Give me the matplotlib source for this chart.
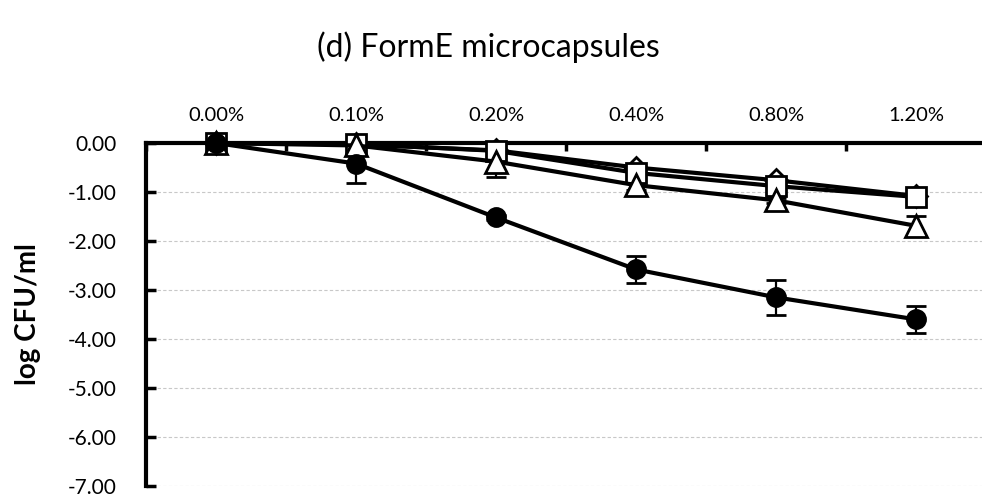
import matplotlib
matplotlib.use("Agg")
import matplotlib.pyplot as plt
import numpy as np

plt.rcParams['font.family'] = ['Lato', 'DejaVu Sans']

concentrations = ["0.00%", "0.10%", "0.20%", "0.40%", "0.80%", "1.20%"]

circle_vals = [0.00, -0.42, -1.52, -2.58, -3.15, -3.60]
circle_err = [0.15, 0.40, 0.05, 0.27, 0.35, 0.27]

diamond_vals = [0.00, -0.03, -0.15, -0.50, -0.76, -1.08]
diamond_err = [0.05, 0.05, 0.05, 0.05, 0.05, 0.05]

square_vals = [0.00, -0.02, -0.16, -0.61, -0.88, -1.10]
square_err = [0.10, 0.05, 0.05, 0.05, 0.05, 0.08]

triangle_vals = [0.00, -0.05, -0.38, -0.86, -1.17, -1.69]
triangle_err = [0.10, 0.05, 0.31, 0.10, 0.05, 0.20]

y_ticks = [0, -1, -2, -3, -4, -5, -6, -7]

fig = plt.figure(figsize=(9.82, 4.99), dpi=100)
ax = fig.add_axes([146 / 982, 1 - 486 / 499, (986 - 146) / 982, (486 - 143) / 499])

x = np.arange(len(concentrations))

series = [
    (diamond_vals, diamond_err, dict(marker='D', markersize=11, markerfacecolor='white')),
    (square_vals, square_err, dict(marker='s', markersize=14, markerfacecolor='white')),
    (triangle_vals, triangle_err, dict(marker='^', markersize=16, markerfacecolor='white')),
    (circle_vals, circle_err, dict(marker='o', markersize=13, markerfacecolor='black')),
]
for vals, err, style in series:
    ax.errorbar(x, vals, yerr=err, color='black', linewidth=3.0,
                markeredgecolor='black', markeredgewidth=2.0,
                elinewidth=1.6, capsize=7, capthick=2.0, zorder=3, clip_on=False,
                **style)

ax.set_xlim(-0.5, len(concentrations) - 0.5)
ax.set_ylim(-7, 0)
ax.set_yticks(y_ticks)
ax.set_yticklabels([f"{v:.2f}" for v in y_ticks], fontsize=15)
ax.yaxis.grid(True, color='#c8c8c8', linestyle='--', linewidth=0.8, dashes=(3, 2))
ax.set_axisbelow(True)

ax.xaxis.tick_top()
ax.set_xticks(x)
ax.set_xticklabels(concentrations, fontsize=14.5)
ax.set_xticks(np.arange(len(concentrations) + 1) - 0.5, minor=True)
ax.tick_params(axis='x', which='major', length=0, pad=14)
ax.tick_params(axis='x', which='minor', direction='in', length=6, width=2.5)
ax.tick_params(axis='y', which='major', direction='in', length=7, width=2.5, pad=21)

for side in ['right', 'bottom']:
    ax.spines[side].set_visible(False)
ax.spines['top'].set_linewidth(3)
ax.spines['left'].set_linewidth(3)

ax.set_ylabel("log CFU/ml", fontsize=20, fontweight='bold')
ax.yaxis.set_label_coords(-105 / 840, 0.5)

fig.text(488 / 982, 1 - 47 / 499, "(d) FormE microcapsules", fontsize=23,
         ha='center', va='center')

fig.savefig("out.png", dpi=100)
